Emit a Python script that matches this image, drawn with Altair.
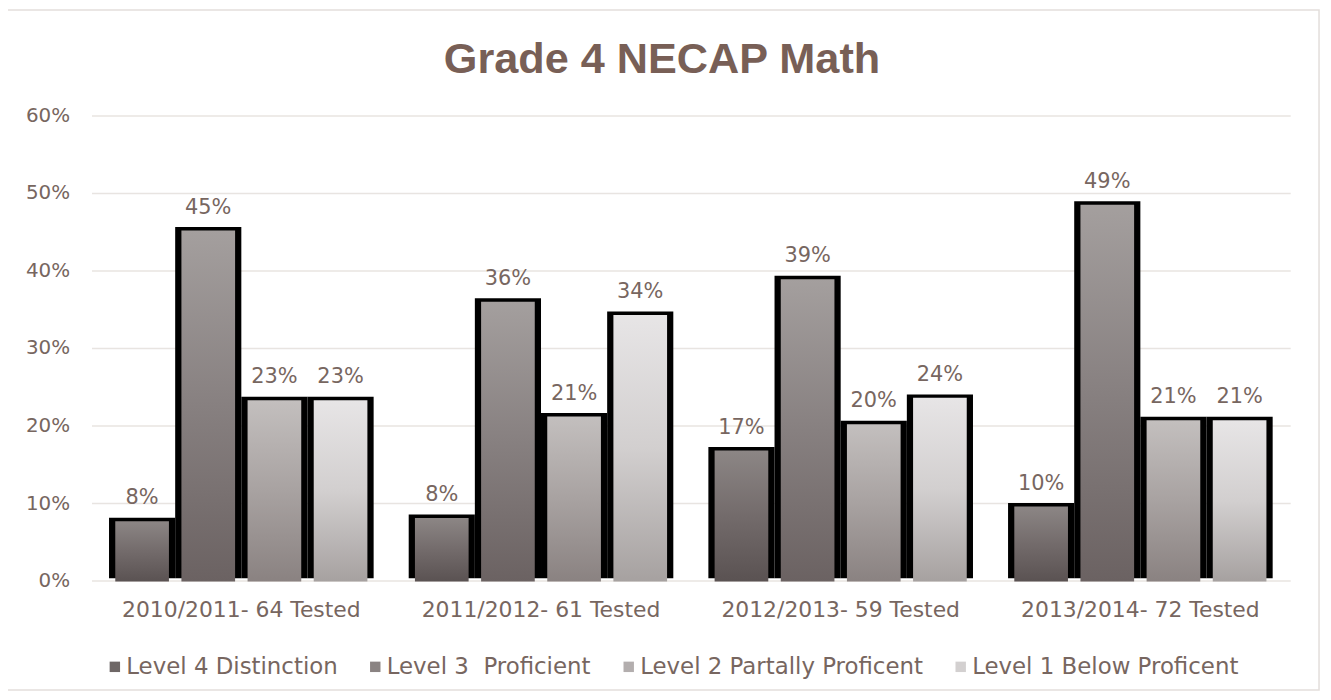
import altair as alt
import pandas as pd

groups = ["2010/2011- 64 Tested", "2011/2012- 61 Tested", "2012/2013- 59 Tested", "2013/2014- 72 Tested"]
levels = ["Level 4 Distinction", "Level 3\u00a0 Proficient", "Level 2 Partally Proficent", "Level 1 Below Proficent"]
level4 = [0.078, 0.082, 0.169, 0.097]
level3 = [0.453, 0.361, 0.390, 0.486]
level2 = [0.234, 0.213, 0.203, 0.208]
level1 = [0.234, 0.344, 0.237, 0.208]
series = [level4, level3, level2, level1]
title_text = ["Grade 4 NECAP Math"]

rows = []
for lv, vals in zip(levels, series):
    for g, v in zip(groups, vals):
        rows.append({"group": g, "level": lv, "value": v})
df = pd.DataFrame(rows)

grad_stops = [
    [("#5a5252", 0), ("#736b6b", 0.5), ("#8c8685", 1)],
    [("#6b6262", 0), ("#878080", 0.5), ("#a49f9e", 1)],
    [("#8a8281", 0), ("#a8a2a1", 0.5), ("#c3bfbe", 1)],
    [("#a6a1a0", 0), ("#d2cfcf", 0.5), ("#e7e5e6", 1)],
]
legend_colors = ["#6e6766", "#8a8382", "#b3aeae", "#d3d0d0"]

TEXT = "#776660"
TITLE = "#785f56"
GRID = "#e8e4e1"
FONT = "DejaVu Sans"

x_enc = alt.X("group:N", sort=groups,
              scale=alt.Scale(paddingInner=0.117, paddingOuter=0.0585),
              axis=alt.Axis(title=None, labelAngle=0, domain=False, ticks=False,
                            labelPadding=19, labelFontSize=22, labelColor=TEXT,
                            labelFont=FONT, labelLimit=400))
xo_enc = alt.XOffset("level:N", sort=levels, scale=alt.Scale(domain=levels))
y_enc = alt.Y("value:Q", scale=alt.Scale(domain=[0, 0.6]),
              axis=alt.Axis(title=None, format=".0%", values=[0, 0.1, 0.2, 0.3, 0.4, 0.5, 0.6],
                            grid=True, gridColor=GRID, gridWidth=1.5, domain=False,
                            ticks=False, labelPadding=22, labelFontSize=20,
                            labelColor=TEXT, labelFont=FONT))

base = alt.Chart(df).encode(x=x_enc, xOffset=xo_enc, y=y_enc)

black = base.mark_bar(color="black", yOffset=-2.5)

grad_layers = []
for lv, stops in zip(levels, grad_stops):
    g = alt.LinearGradient(gradient="linear",
                           stops=[alt.GradientStop(color=c, offset=o) for c, o in stops],
                           x1=0, x2=0, y1=1, y2=0)
    grad_layers.append(
        base.transform_filter(alt.datum.level == lv).mark_bar(fill=g, width=54, yOffset=1)
    )

legend_layer = base.mark_point(opacity=0, filled=True, shape="square").encode(
    color=alt.Color("level:N", sort=levels,
                    scale=alt.Scale(domain=levels, range=legend_colors),
                    legend=alt.Legend(title=None, orient="none", direction="horizontal",
                                      legendX=12, legendY=543, symbolType="square",
                                      symbolSize=110, symbolOpacity=1, symbolStrokeWidth=0,
                                      labelFontSize=23, labelColor=TEXT, labelFont=FONT,
                                      labelOffset=0, columnPadding=26, labelLimit=400))
)

labels = base.mark_text(dy=-16, baseline="alphabetic", fontSize=21, color=TEXT, font=FONT).encode(
    text=alt.Text("value:Q", format=".0%")
)

frame = alt.Chart(alt.Data(values=[{"a": 1}])).mark_rect(
    fill=None, stroke="#e3dedb", strokeWidth=1.5
).encode(x=alt.value(-85), x2=alt.value(1235), y=alt.value(-106), y2=alt.value(578))

title = alt.Chart(alt.Data(values=[{"t": t} for t in title_text])).mark_text(
    font="Liberation Sans", fontSize=43.5, fontWeight="bold", color=TITLE,
    align="center", baseline="alphabetic"
).encode(text="t:N", x=alt.value(574), y=alt.value(-43))

chart = alt.layer(frame, title, black, *grad_layers, legend_layer, labels).properties(
    width=1206, height=468,
    autosize=alt.AutoSizeParams(type="none"),
    padding={"left": 84, "top": 106, "right": 33, "bottom": 116},
    background="white",
).configure_view(stroke=None)

chart.save("out.html", embed_options={"renderer": "svg", "actions": False})
